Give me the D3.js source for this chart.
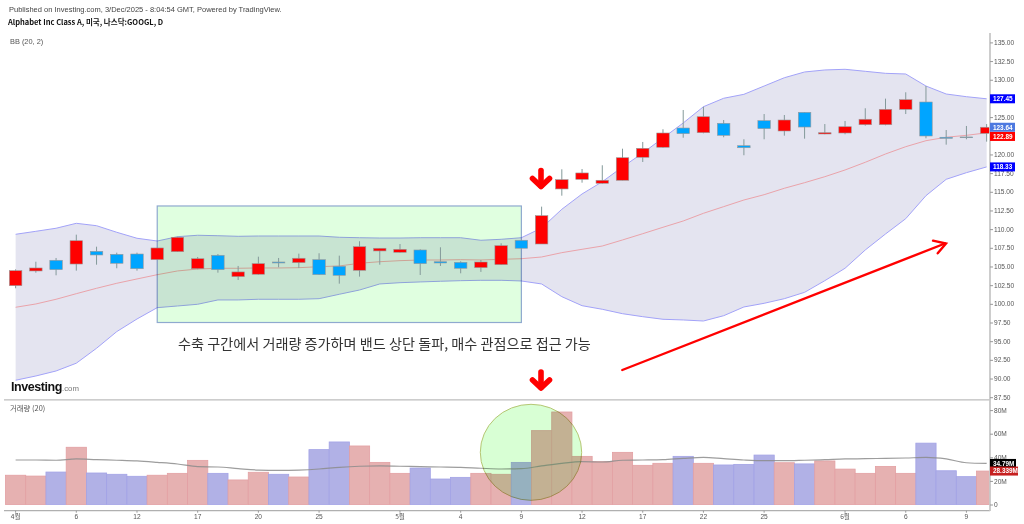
<!DOCTYPE html>
<html>
<head>
<meta charset="utf-8">
<script src="https://cdn.jsdelivr.net/npm/d3@7"></script>
<style>
  body { margin: 0; background: #fff; }
  svg { display: block; }
  text { font-family: "Liberation Sans", Arial, sans-serif; }
  .kr { font-family: "Noto Sans CJK KR", "Noto Sans", sans-serif; }
</style>
</head>
<body>
<svg id="chart" width="1024" height="524"></svg>
<script>
var days = d3.range(49);
var tickDays = [0, 3, 6, 9, 12, 15, 19, 22, 25, 28, 31, 34, 37, 41, 44, 47];
var tickNames = ["4월", "6", "12", "17", "20", "25", "5월", "4", "9", "12", "17", "22", "25", "6월", "6", "9"];

var opens = [102.43,104.40,105.83,105.33,107.03,106.63,106.67,105.91,106.98,104.70,106.50,103.64,103.96,105.60,105.51,105.91,105.03,104.49,107.08,106.90,107.21,105.64,105.56,104.84,105.24,108.51,108.01,115.38,116.67,116.14,116.54,119.62,120.96,123.54,122.91,124.17,121.17,124.52,123.14,125.64,122.74,122.87,123.98,123.98,126.04,127.02,122.30,122.34,122.83];
var highs = [104.62,105.64,106.14,109.26,107.65,106.85,106.85,107.52,108.99,106.27,106.67,105.07,106.31,106.14,106.72,106.77,106.45,108.38,107.44,108.01,107.30,107.57,105.70,105.87,108.11,108.55,113.01,118.01,118.05,118.55,120.77,121.67,123.37,125.95,126.39,124.61,122.03,125.41,125.28,125.64,124.07,124.48,126.18,127.47,128.32,129.16,123.27,123.81,124.07];
var lows = [102.08,104.17,103.82,104.44,105.24,104.76,104.44,105.87,106.94,104.62,104.17,103.19,103.90,104.89,104.80,103.86,102.70,103.64,105.24,106.85,103.86,105.07,104.09,104.27,105.20,107.40,108.01,114.48,116.22,116.08,116.54,118.99,120.90,122.24,122.83,122.30,119.89,122.03,122.51,122.11,122.70,122.70,123.85,123.90,125.41,122.16,121.31,122.03,121.71];
var closes = [104.44,104.80,104.57,108.45,106.54,105.43,104.70,107.48,108.91,106.04,104.57,104.27,105.38,105.47,106.10,103.90,103.82,107.65,107.44,107.30,105.38,105.47,104.76,105.60,107.79,107.44,111.80,116.62,117.52,116.54,119.56,120.82,122.87,122.78,125.05,122.56,120.90,123.45,124.61,123.67,122.91,123.71,124.71,126.04,127.33,122.47,122.16,122.24,123.64];

var bbUpper = [109.31,109.71,110.12,110.78,110.46,109.58,108.78,108.41,108.99,109.18,109.12,109.04,109.08,109.08,109.08,109.08,108.91,108.85,108.81,108.81,108.85,108.85,108.85,108.51,108.64,108.85,110.15,112.66,114.71,116.35,118.32,120.19,122.20,124.21,126.39,127.52,128.05,129.16,130.27,131.04,131.31,131.40,131.13,130.86,130.77,129.16,128.09,127.73,127.45];
var bbMiddle = [99.54,99.98,100.61,101.36,102.08,102.75,103.33,103.90,104.40,104.66,104.76,104.76,104.80,104.80,104.84,104.97,105.07,105.43,105.64,105.78,105.87,105.87,105.91,105.87,105.96,106.04,106.27,106.85,107.30,107.74,108.55,109.39,110.25,111.09,112.12,113.01,113.90,114.61,115.47,116.22,117.02,117.92,118.95,120.06,121.04,121.84,122.30,122.56,122.89];
var bbLower = [89.77,90.34,91.01,92.05,94.05,96.28,97.97,99.49,99.71,99.94,100.52,100.52,100.61,100.61,100.61,100.69,101.28,101.85,102.66,102.83,102.93,103.02,103.10,103.15,103.15,103.06,102.66,100.96,99.75,99.27,98.68,98.28,97.93,97.84,97.70,98.41,99.58,100.07,100.69,101.54,103.10,104.76,107.21,109.35,111.40,114.48,116.67,117.56,118.33];

var volumes = [24.8,24.1,27.5,48.5,26.7,25.6,23.9,24.8,26.4,37.4,26.4,20.8,27.3,25.6,23.3,46.5,53.0,49.6,35.7,26.4,30.9,21.6,23.0,26.4,25.6,35.7,62.6,78.4,40.8,36.3,44.2,33.2,34.9,40.8,34.9,33.5,34.0,41.9,35.4,34.4,36.9,30.0,26.4,32.3,26.4,52.0,28.6,23.6,28.339];
var volumeMA = [37.7,37.7,37.5,38.6,38.0,37.5,36.9,35.7,34.3,32.1,31.8,30.4,29.2,28.9,29.2,30.1,31.5,32.4,32.7,32.4,32.1,31.8,31.5,30.7,30.1,30.4,32.7,34.9,36.3,36.0,37.5,37.7,38.0,39.1,39.9,38.8,37.7,37.1,37.1,37.5,38.0,38.6,38.8,39.1,39.4,39.9,38.6,35.4,34.79];

var priceTicks = d3.range(87.5, 135.01, 2.5);
var volumeTicks = [0, 20, 40, 60, 80];

var svg = d3.select("#chart");

var x = d3.scaleBand().domain(days).range([5.5, 5.5 + 49 * 20.23]);
var bw = x.bandwidth();
function cx(i) { return x(i) + bw / 2; }
var y = d3.scaleLinear().domain([87.5, 135]).range([397.2, 42.4]);
var yVol = d3.scaleLinear().domain([0, 80]).range([504.5, 410.1]);

svg.append("clipPath").attr("id", "plot").append("rect").attr("x", 0).attr("y", 0).attr("width", 990).attr("height", 524);
var plot = svg.append("g").attr("clip-path", "url(#plot)");

// bollinger band
var area = d3.area().x(function (d) { return cx(d); })
  .y0(function (d) { return y(bbLower[d]); })
  .y1(function (d) { return y(bbUpper[d]); });
plot.append("path").attr("d", area(days)).attr("fill", "#e4e4f0");

function bandLine(values, color) {
  var line = d3.line().x(function (d) { return cx(d); }).y(function (d) { return y(values[d]); });
  plot.append("path").attr("d", line(days)).attr("fill", "none").attr("stroke", color).attr("stroke-width", 1);
}
bandLine(bbUpper, "#a2a2f8");
bandLine(bbLower, "#a2a2f8");
bandLine(bbMiddle, "#eaa3aa");

// consolidation box, starts at candle 7 and ends at candle 25
plot.append("rect")
  .attr("x", cx(7)).attr("width", cx(25) - cx(7))
  .attr("y", y(113.1)).attr("height", y(97.5) - y(113.1))
  .attr("fill", "#e0ffe0").attr("stroke", "#8fa9cf").attr("stroke-width", 1.2)
  .style("mix-blend-mode", "multiply");

// candles
function up(i) { return closes[i] >= opens[i]; }
plot.selectAll(".wick").data(days).enter().append("line").attr("class", "wick")
  .attr("x1", cx).attr("x2", cx)
  .attr("y1", function (d) { return y(highs[d]); })
  .attr("y2", function (d) { return y(lows[d]); })
  .attr("stroke", "#84999a").attr("stroke-width", 1);
plot.selectAll(".body").data(days).enter().append("rect").attr("class", "body")
  .attr("x", function (d) { return cx(d) - 6.25; })
  .attr("width", 12.5)
  .attr("y", function (d) { return y(Math.max(opens[d], closes[d])); })
  .attr("height", function (d) { return Math.abs(y(opens[d]) - y(closes[d])); })
  .attr("fill", function (d) { return up(d) ? "#ff0000" : "#00a5ff"; })
  .attr("stroke", "#999").attr("stroke-width", 0.6);

// volume
plot.selectAll(".vol").data(days).enter().append("rect").attr("class", "vol")
  .attr("x", function (d) { return x(d); })
  .attr("width", bw)
  .attr("y", function (d) { return yVol(volumes[d]); })
  .attr("height", function (d) { return yVol(0) - yVol(volumes[d]); })
  .attr("fill", function (d) { return up(d) ? "#e6b1b1" : "#b1b1e6"; })
  .attr("stroke", function (d) { return up(d) ? "#e3a0a3" : "#a3a3e6"; })
  .attr("stroke-width", 0.8);
var maLine = d3.line().x(function (d) { return cx(d); }).y(function (d) { return yVol(volumeMA[d]); }).curve(d3.curveMonotoneX);
plot.append("path").attr("d", maLine(days)).attr("fill", "none").attr("stroke", "#8c8c8c").attr("stroke-opacity", 0.85).attr("stroke-width", 1.2);

// green circle around the volume spike
svg.append("ellipse").attr("cx", 531).attr("cy", 452.3).attr("rx", 50.7).attr("ry", 48)
  .attr("fill", "#d8ffd4").attr("stroke", "#b5c673").attr("stroke-width", 1)
  .style("mix-blend-mode", "multiply");

// frame lines
svg.append("line").attr("x1", 4).attr("x2", 990).attr("y1", 399.8).attr("y2", 399.8).attr("stroke", "#bdbdbd").attr("stroke-width", 1.3);
svg.append("line").attr("x1", 4).attr("x2", 990).attr("y1", 510.7).attr("y2", 510.7).attr("stroke", "#b0b0b0").attr("stroke-width", 1.2);
svg.append("line").attr("x1", 990).attr("x2", 990).attr("y1", 33).attr("y2", 511).attr("stroke", "#c8c8c8").attr("stroke-width", 1.8);

// axes
function styleAxis(g) {
  g.select(".domain").remove();
  g.selectAll("line").attr("stroke", "#999");
  g.selectAll("text").attr("fill", "#555").style("font-size", "6.6px");
}
svg.append("g").attr("transform", "translate(990,0)")
  .call(d3.axisRight(y).tickValues(priceTicks).tickSize(3).tickPadding(1).tickFormat(function (d) { return d.toFixed(2); }))
  .call(styleAxis);
svg.append("g").attr("transform", "translate(990,0)")
  .call(d3.axisRight(yVol).tickValues(volumeTicks).tickSize(3).tickPadding(1).tickFormat(function (d) { return d === 0 ? "0" : d + "M"; }))
  .call(styleAxis);
svg.append("g").attr("transform", "translate(0,510.7)")
  .call(d3.axisBottom(x).tickValues(tickDays).tickSize(2).tickPadding(1.5).tickFormat(function (d) { return tickNames[tickDays.indexOf(d)]; }))
  .call(styleAxis);
svg.selectAll("g text").filter(function () { return /월/.test(this.textContent); }).classed("kr", true);

// value labels on the right axis
function priceTag(text, yPos, color, w) {
  svg.append("rect").attr("x", 990).attr("y", yPos - 4.5).attr("width", w).attr("height", 9).attr("fill", color);
  svg.append("text").attr("x", 993).attr("y", yPos + 2.3).attr("fill", "#fff").style("font-size", "6.4px").style("font-weight", "bold").text(text);
}
priceTag("127.45", y(127.45), "#0000ff", 25);
priceTag("123.64", y(123.64), "#4d79e0", 25);
priceTag("122.89", y(122.89) + 3.6, "#ff0000", 25);
priceTag("118.33", y(118.33), "#0000ff", 25);
priceTag("34.79M", yVol(34.79), "#000000", 26);
priceTag("28.339M", yVol(28.339), "#c62020", 28);

// titles
svg.append("text").attr("x", 9).attr("y", 12.3).attr("fill", "#444").style("font-size", "7.5px")
  .text("Published on Investing.com, 3/Dec/2025 - 8:04:54 GMT, Powered by TradingView.");
svg.append("text").attr("class", "kr").attr("x", 8).attr("y", 25.3).attr("fill", "#111").style("font-size", "7.5px").style("font-weight", "bold")
  .text("Alphabet Inc Class A, 미국, 나스닥:GOOGL, D");
svg.append("text").attr("x", 10).attr("y", 44).attr("fill", "#555").style("font-size", "7.4px").text("BB (20, 2)");
svg.append("text").attr("class", "kr").attr("x", 10).attr("y", 411).attr("fill", "#555").style("font-size", "7.4px").text("거래량 (20)");

// logo
svg.append("text").attr("x", 11).attr("y", 391).attr("fill", "#111").style("font-size", "12.5px").style("font-weight", "bold").style("letter-spacing", "-0.45px").text("Investing");
svg.append("text").attr("x", 62).attr("y", 391).attr("fill", "#777").style("font-size", "7.8px").text(".com");

// annotations
svg.append("text").attr("class", "kr").attr("x", 178).attr("y", 349).attr("fill", "#333").style("font-size", "14.15px")
  .text("수축 구간에서 거래량 증가하며 밴드 상단 돌파, 매수 관점으로 접근 가능");

function downArrow(ax, top) {
  var g = svg.append("g").attr("fill", "none").attr("stroke", "#ff0000").attr("stroke-width", 5.6)
    .attr("stroke-linecap", "round").attr("stroke-linejoin", "round");
  g.append("path").attr("d", "M" + ax + "," + (top + 2.5) + "V" + (top + 18));
  g.append("path").attr("d", "M" + (ax - 8.5) + "," + (top + 10.5) + "L" + ax + "," + (top + 18.5) + "L" + (ax + 8.5) + "," + (top + 10.5));
}
downArrow(541, 168);
downArrow(541, 369.5);

var trend = svg.append("g").attr("fill", "none").attr("stroke", "#ff0000").attr("stroke-width", 2.4).attr("stroke-linecap", "round");
trend.append("path").attr("d", "M622.3,370L945,243.5");
trend.append("path").attr("d", "M933,240.7L946,243.5L937.7,253.3");
</script>
</body>
</html>
